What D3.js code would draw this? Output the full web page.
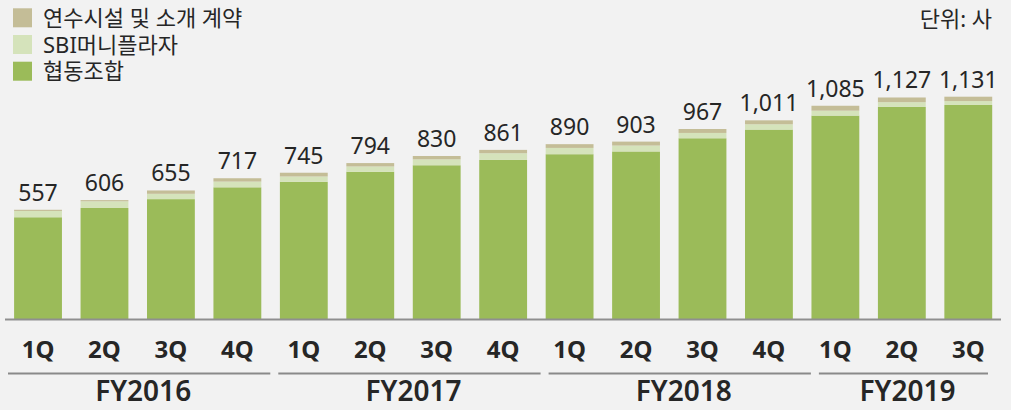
<!DOCTYPE html>
<html>
<head>
<meta charset="utf-8">
<script src="https://cdn.jsdelivr.net/npm/d3@7"></script>
<style>
    html, body { margin: 0; padding: 0; background: #f2f2f2; }
    svg { display: block; font-family: "Noto Sans", "Noto Sans CJK KR", sans-serif; }
</style>
</head>
<body>
<svg width="1011" height="410"></svg>
<script>
// Data (unit: 사)
const quarters = ["1Q", "2Q", "3Q", "4Q", "1Q", "2Q", "3Q", "4Q", "1Q", "2Q", "3Q", "4Q", "1Q", "2Q", "3Q"];
const years = ["FY2016", "FY2016", "FY2016", "FY2016",
               "FY2017", "FY2017", "FY2017", "FY2017",
               "FY2018", "FY2018", "FY2018", "FY2018",
               "FY2019", "FY2019", "FY2019"];
const coop = [519, 566, 611, 671, 699, 750, 783, 810, 839, 853, 920, 964, 1035, 1079, 1089];   // 협동조합
const sbi = [32, 34, 27, 29, 27, 27, 30, 34, 32, 30, 27, 27, 25, 24, 20];                     // SBI머니플라자
const training = [6, 6, 17, 17, 19, 17, 17, 17, 19, 20, 20, 20, 25, 24, 22];                   // 연수시설 및 소개 계약

const seriesNames = ["협동조합", "SBI머니플라자", "연수시설 및 소개 계약"];
const seriesColors = ["#9bbb59", "#d5e3bb", "#c4bd97"];
const unitLabel = "단위: 사";

const svg = d3.select("svg");
const textColor = "#262626";

// one row per quarter, keys are the series names
const table = quarters.map(function(q, i){
    let row = { id: years[i] + " " + q, quarter: q, year: years[i] };
    row[seriesNames[0]] = coop[i];
    row[seriesNames[1]] = sbi[i];
    row[seriesNames[2]] = training[i];
    return row;
});

const x = d3.scaleBand()
            .domain(table.map(d => d.id))
            .range([4.8, 1001.5])
            .paddingInner(0.28)
            .paddingOuter(0.14);

const y = d3.scaleLinear()
            .domain([0, 1200])
            .range([319.5, 83.1]);

const stack = d3.stack().keys(seriesNames);
const layers = stack(table);

// bars
svg.append("g")
   .selectAll("g")
   .data(layers)
   .enter()
   .append("g")
   .attr("fill", (d, i) => seriesColors[i])
   .selectAll("rect")
   .data(d => d)
   .enter()
   .append("rect")
   .attr("x", d => x(d.data.id))
   .attr("width", x.bandwidth())
   .attr("y", d => y(d[1]))
   .attr("height", d => y(d[0]) - y(d[1]));

// totals above bars
svg.append("g")
   .selectAll("text")
   .data(table)
   .enter()
   .append("text")
   .attr("x", d => x(d.id) + x.bandwidth() / 2)
   .attr("y", d => y(d3.sum(seriesNames, k => d[k])) - 9)
   .attr("text-anchor", "middle")
   .attr("font-size", 23)
   .attr("fill", textColor)
   .text(d => d3.format(",")(d3.sum(seriesNames, k => d[k])));

// baseline
svg.append("line")
   .attr("x1", 5).attr("x2", 1001)
   .attr("y1", y(0)).attr("y2", y(0))
   .attr("stroke", "#8f8f8f")
   .attr("stroke-width", 2);

// quarter labels
svg.append("g")
   .selectAll("text")
   .data(table)
   .enter()
   .append("text")
   .attr("x", d => x(d.id) + x.bandwidth() / 2)
   .attr("y", 358)
   .attr("text-anchor", "middle")
   .attr("font-size", 24)
   .attr("font-weight", "bold")
   .attr("fill", textColor)
   .text(d => d.quarter);

// fiscal year groups
const groups = Array.from(d3.group(table.map((d, i) => ({year: d.year, i: i})), d => d.year),
                          ([year, rows]) => ({year: year, first: rows[0].i, last: rows[rows.length - 1].i}));

// group rules are spaced a little wider than the bars
const ruleX = d3.scaleLinear().domain([0, 4]).range([8, 278.3]);

const groupG = svg.append("g")
                  .selectAll("g")
                  .data(groups)
                  .enter()
                  .append("g");

groupG.append("line")
      .attr("x1", d => ruleX(d.first))
      .attr("x2", d => Math.min(ruleX(d.last + 1) - 8, 988))
      .attr("y1", 373.5).attr("y2", 373.5)
      .attr("stroke", "#8a8a8a")
      .attr("stroke-width", 2);

groupG.append("text")
      .attr("x", d => (ruleX(d.first) + Math.min(ruleX(d.last + 1) - 8, 988)) / 2 + 4)
      .attr("y", 401)
      .attr("text-anchor", "middle")
      .attr("font-size", 28)
      .attr("font-weight", 600)
      .attr("fill", textColor)
      .text(d => d.year);

// legend, top series first
const legendItems = seriesNames.map((name, i) => ({name: name, color: seriesColors[i]})).reverse();

const legend = svg.append("g")
                  .selectAll("g")
                  .data(legendItems)
                  .enter()
                  .append("g")
                  .attr("transform", (d, i) => `translate(13, ${8.3 + i * 26.7})`);

legend.append("rect")
      .attr("width", 19)
      .attr("height", 19)
      .attr("fill", d => d.color);

legend.append("text")
      .attr("x", 30)
      .attr("y", 17.5)
      .attr("font-size", 22)
      .attr("fill", textColor)
      .text(d => d.name);

// unit
svg.append("text")
   .attr("x", 992)
   .attr("y", 27)
   .attr("text-anchor", "end")
   .attr("font-size", 22)
   .attr("fill", textColor)
   .text(unitLabel);
</script>
</body>
</html>
